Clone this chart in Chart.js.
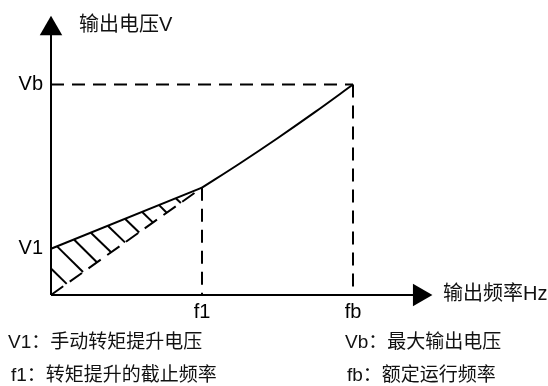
<!DOCTYPE html>
<html lang="zh">
<head>
    <meta charset="UTF-8">
    <title>V/F 曲线</title>
    <script src="https://cdn.jsdelivr.net/npm/chart.js@4/dist/chart.umd.min.js"></script>
    <style>
        body { margin: 0; background: #fff; }
    </style>
</head>
<body>
    <canvas id="chart" width="548" height="386"></canvas>
    <script>
        // 刻度 (频率 / 电压)
        var freqTicks = [25, 50]
        var freqLabels = ["f1", "fb"]
        var voltTicks = [22, 100]
        var voltLabels = ["V1", "Vb"]

        // 转矩提升直线 V1 -> f1
        var boostX = [0, 25]
        var boostY = [22, 51]
        // f1 -> fb 的曲线
        var curveX = [25, 31.25, 37.5, 43.75, 50]
        var curveY = [51, 62.5, 74.5, 87, 100]
        // 原点 -> f1 的虚线
        var baseX = [0, 25]
        var baseY = [0, 51]

        // 阴影线 (起点在提升线上, 终点在虚线上)
        var hatchX1 = [0, 1.0, 3.8, 6.6, 9.4, 12.25, 15.1, 17.9, 20.7]
        var hatchY1 = [12.6, 23.1, 26.4, 29.6, 32.9, 36.2, 39.4, 42.7, 45.9]
        var hatchX2 = [2.6, 5.3, 7.6, 10.0, 12.25, 14.6, 16.9, 19.2, 21.5]
        var hatchY2 = [5.3, 10.9, 15.6, 20.2, 25.0, 29.7, 34.4, 39.0, 43.7]

        var axisEndX = 61
        var axisEndY = 126.5

        var notes = [
            ["V1：手动转矩提升电压", "Vb：最大输出电压"],
            ["f1：转矩提升的截止频率", "fb：额定运行频率"]
        ]

        var FONT = "'Liberation Sans', 'Noto Sans CJK SC', sans-serif"

        function pts(xs, ys) {
            var out = []
            for (var i = 0; i < xs.length; i++) out.push({x: xs[i], y: ys[i]})
            return out
        }

        function seg(data, dash) {
            return {
                data: data,
                showLine: true,
                borderColor: "#000",
                borderWidth: 2,
                borderDash: dash || [],
                pointRadius: 0,
                clip: false
            }
        }

        var datasets = []
        // 坐标轴
        datasets.push(seg([{x: 0, y: 0}, {x: axisEndX, y: 0}]))
        datasets.push(seg([{x: 0, y: 0}, {x: 0, y: axisEndY}]))
        // 箭头
        datasets.push({
            data: [{x: axisEndX, y: 0}], pointStyle: "triangle", rotation: 90,
            pointRadius: 13, backgroundColor: "#000", borderColor: "#000", borderWidth: 0, clip: false
        })
        datasets.push({
            data: [{x: 0, y: axisEndY}], pointStyle: "triangle", rotation: 0,
            pointRadius: 13, backgroundColor: "#000", borderColor: "#000", borderWidth: 0, clip: false
        })
        // 虚线
        datasets.push(seg([{x: 0, y: voltTicks[1]}, {x: freqTicks[1], y: voltTicks[1]}], [13, 8]))
        datasets.push(seg([{x: freqTicks[1], y: voltTicks[1]}, {x: freqTicks[1], y: 0}], [13, 8]))
        datasets.push(seg([{x: freqTicks[0], y: boostY[1]}, {x: freqTicks[0], y: 0}], [13, 8]))
        datasets.push(seg(pts(baseX, baseY), [15, 8]))
        // 实线
        datasets.push(seg(pts(boostX, boostY)))
        var c = seg(pts(curveX, curveY))
        c.tension = 0.4
        c.cubicInterpolationMode = "monotone"
        datasets.push(c)
        // 阴影
        for (var i = 0; i < hatchX1.length; i++) {
            datasets.push(seg([{x: hatchX1[i], y: hatchY1[i]}, {x: hatchX2[i], y: hatchY2[i]}]))
        }

        var textPlugin = {
            id: "texts",
            afterDraw: function(chart) {
                var ctx = chart.ctx
                ctx.save()
                ctx.fillStyle = "#111"
                ctx.textBaseline = "middle"
                ctx.textAlign = "left"
                ctx.font = "20px " + FONT
                ctx.fillText("输出电压V", 79, 25)
                ctx.fillText("输出频率Hz", 443, 294)
                ctx.font = "19px " + FONT
                ctx.fillText(notes[0][0], 8, 343)
                ctx.fillText(notes[0][1], 345, 343)
                ctx.fillText(notes[1][0], 11, 376)
                ctx.fillText(notes[1][1], 347, 376)
                ctx.restore()
            }
        }

        var config = {
            type: "scatter",
            data: { datasets: datasets },
            options: {
                responsive: false,
                animation: false,
                devicePixelRatio: 1,
                events: [],
                layout: { padding: { left: 0, top: 8.24, right: 110.44, bottom: 0 } },
                plugins: { legend: { display: false }, tooltip: { enabled: false } },
                scales: {
                    x: {
                        type: "linear",
                        min: 0,
                        max: 64,
                        grid: { display: false, drawTicks: false },
                        border: { display: false },
                        afterBuildTicks: function(s) {
                            s.ticks = freqTicks.map(function(v) { return {value: v} })
                        },
                        afterFit: function(s) {
                            s.height = 91
                            s.paddingLeft = 0
                            s.paddingRight = 0
                        },
                        ticks: {
                            autoSkip: false,
                            maxRotation: 0,
                            padding: 5,
                            color: "#000",
                            font: { size: 20, family: FONT },
                            callback: function(v) { return freqLabels[freqTicks.indexOf(v)] }
                        }
                    },
                    y: {
                        type: "linear",
                        min: 0,
                        max: 134,
                        grid: { display: false, drawTicks: false },
                        border: { display: false },
                        afterBuildTicks: function(s) {
                            s.ticks = voltTicks.map(function(v) { return {value: v} })
                        },
                        afterFit: function(s) {
                            s.width = 51
                            s.paddingTop = 0
                            s.paddingBottom = 0
                        },
                        ticks: {
                            autoSkip: false,
                            padding: 8,
                            color: "#000",
                            font: { size: 20, family: FONT },
                            callback: function(v) { return voltLabels[voltTicks.indexOf(v)] }
                        }
                    }
                }
            },
            plugins: [textPlugin]
        }

        window.addEventListener("load", function() {
            new Chart(document.getElementById("chart"), config)
        })
    </script>
</body>
</html>
